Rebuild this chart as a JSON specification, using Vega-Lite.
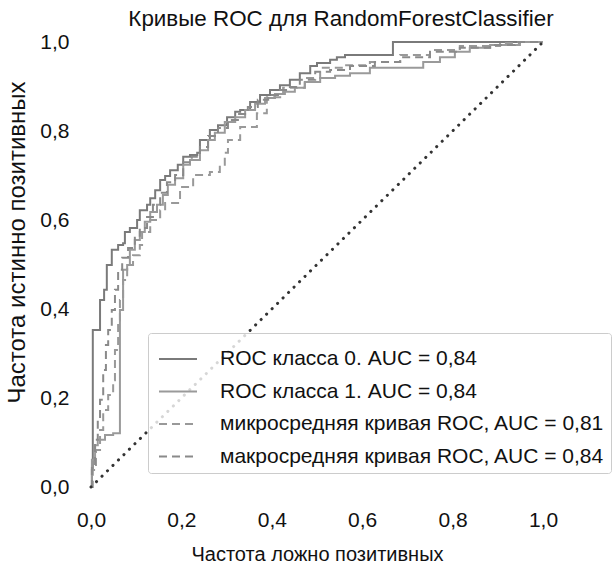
{
  "$schema": "https://vega.github.io/schema/vega-lite/v6.json",
  "autosize": {"type": "none"},
  "padding": {"left": 91, "top": 42, "right": 69, "bottom": 79},
  "width": 452,
  "height": 445,
  "background": "white",
  "config": {
    "view": {"stroke": null},
    "font": "Liberation Sans",
    "axis": {"grid": false, "domain": false, "ticks": false, "labelFontSize": 21, "titleFontSize": 20, "labelColor": "#111", "titleColor": "#111", "titleFontWeight": "normal", "labelFlush": false, "labelOverlap": false}
  },
  "title": {"text": "Кривые ROC для RandomForestClassifier", "fontSize": 22.4, "fontWeight": "normal", "color": "#111", "anchor": "middle", "dx": 24, "offset": 1, "font": "Liberation Sans"},
  "layer": [
    {
      "data": {"values": [
        {"curve": "ROC класса 0. AUC = 0,84", "i": 0, "fpr": 0, "tpr": 0},
        {"curve": "ROC класса 0. AUC = 0,84", "i": 1, "fpr": 0.002, "tpr": 0.038},
        {"curve": "ROC класса 0. AUC = 0,84", "i": 2, "fpr": 0.004, "tpr": 0.196},
        {"curve": "ROC класса 0. AUC = 0,84", "i": 3, "fpr": 0.004, "tpr": 0.353},
        {"curve": "ROC класса 0. AUC = 0,84", "i": 4, "fpr": 0.020, "tpr": 0.360},
        {"curve": "ROC класса 0. AUC = 0,84", "i": 5, "fpr": 0.020, "tpr": 0.420},
        {"curve": "ROC класса 0. AUC = 0,84", "i": 6, "fpr": 0.029, "tpr": 0.443},
        {"curve": "ROC класса 0. AUC = 0,84", "i": 7, "fpr": 0.035, "tpr": 0.458},
        {"curve": "ROC класса 0. AUC = 0,84", "i": 8, "fpr": 0.035, "tpr": 0.499},
        {"curve": "ROC класса 0. AUC = 0,84", "i": 9, "fpr": 0.046, "tpr": 0.506},
        {"curve": "ROC класса 0. AUC = 0,84", "i": 10, "fpr": 0.046, "tpr": 0.533},
        {"curve": "ROC класса 0. AUC = 0,84", "i": 11, "fpr": 0.060, "tpr": 0.544},
        {"curve": "ROC класса 0. AUC = 0,84", "i": 12, "fpr": 0.071, "tpr": 0.548},
        {"curve": "ROC класса 0. AUC = 0,84", "i": 13, "fpr": 0.075, "tpr": 0.573},
        {"curve": "ROC класса 0. AUC = 0,84", "i": 14, "fpr": 0.086, "tpr": 0.582},
        {"curve": "ROC класса 0. AUC = 0,84", "i": 15, "fpr": 0.102, "tpr": 0.600},
        {"curve": "ROC класса 0. AUC = 0,84", "i": 16, "fpr": 0.108, "tpr": 0.622},
        {"curve": "ROC класса 0. AUC = 0,84", "i": 17, "fpr": 0.124, "tpr": 0.634},
        {"curve": "ROC класса 0. AUC = 0,84", "i": 18, "fpr": 0.131, "tpr": 0.649},
        {"curve": "ROC класса 0. AUC = 0,84", "i": 19, "fpr": 0.142, "tpr": 0.667},
        {"curve": "ROC класса 0. AUC = 0,84", "i": 20, "fpr": 0.153, "tpr": 0.690},
        {"curve": "ROC класса 0. AUC = 0,84", "i": 21, "fpr": 0.164, "tpr": 0.699},
        {"curve": "ROC класса 0. AUC = 0,84", "i": 22, "fpr": 0.175, "tpr": 0.712},
        {"curve": "ROC класса 0. AUC = 0,84", "i": 23, "fpr": 0.192, "tpr": 0.724},
        {"curve": "ROC класса 0. AUC = 0,84", "i": 24, "fpr": 0.204, "tpr": 0.742},
        {"curve": "ROC класса 0. AUC = 0,84", "i": 25, "fpr": 0.219, "tpr": 0.746},
        {"curve": "ROC класса 0. AUC = 0,84", "i": 26, "fpr": 0.235, "tpr": 0.751},
        {"curve": "ROC класса 0. AUC = 0,84", "i": 27, "fpr": 0.241, "tpr": 0.780},
        {"curve": "ROC класса 0. AUC = 0,84", "i": 28, "fpr": 0.263, "tpr": 0.802},
        {"curve": "ROC класса 0. AUC = 0,84", "i": 29, "fpr": 0.281, "tpr": 0.813},
        {"curve": "ROC класса 0. AUC = 0,84", "i": 30, "fpr": 0.301, "tpr": 0.831},
        {"curve": "ROC класса 0. AUC = 0,84", "i": 31, "fpr": 0.319, "tpr": 0.843},
        {"curve": "ROC класса 0. AUC = 0,84", "i": 32, "fpr": 0.330, "tpr": 0.847},
        {"curve": "ROC класса 0. AUC = 0,84", "i": 33, "fpr": 0.352, "tpr": 0.865},
        {"curve": "ROC класса 0. AUC = 0,84", "i": 34, "fpr": 0.374, "tpr": 0.881},
        {"curve": "ROC класса 0. AUC = 0,84", "i": 35, "fpr": 0.396, "tpr": 0.892},
        {"curve": "ROC класса 0. AUC = 0,84", "i": 36, "fpr": 0.418, "tpr": 0.903},
        {"curve": "ROC класса 0. AUC = 0,84", "i": 37, "fpr": 0.440, "tpr": 0.915},
        {"curve": "ROC класса 0. AUC = 0,84", "i": 38, "fpr": 0.462, "tpr": 0.930},
        {"curve": "ROC класса 0. AUC = 0,84", "i": 39, "fpr": 0.485, "tpr": 0.946},
        {"curve": "ROC класса 0. AUC = 0,84", "i": 40, "fpr": 0.500, "tpr": 0.953},
        {"curve": "ROC класса 0. AUC = 0,84", "i": 41, "fpr": 0.529, "tpr": 0.960},
        {"curve": "ROC класса 0. AUC = 0,84", "i": 42, "fpr": 0.544, "tpr": 0.966},
        {"curve": "ROC класса 0. AUC = 0,84", "i": 43, "fpr": 0.562, "tpr": 0.971},
        {"curve": "ROC класса 0. AUC = 0,84", "i": 44, "fpr": 0.639, "tpr": 0.971},
        {"curve": "ROC класса 0. AUC = 0,84", "i": 45, "fpr": 0.668, "tpr": 1.0},
        {"curve": "ROC класса 0. AUC = 0,84", "i": 46, "fpr": 1.0, "tpr": 1.0},

        {"curve": "ROC класса 1. AUC = 0,84", "i": 0, "fpr": 0, "tpr": 0},
        {"curve": "ROC класса 1. AUC = 0,84", "i": 1, "fpr": 0.002, "tpr": 0.061},
        {"curve": "ROC класса 1. AUC = 0,84", "i": 2, "fpr": 0.009, "tpr": 0.094},
        {"curve": "ROC класса 1. AUC = 0,84", "i": 3, "fpr": 0.015, "tpr": 0.106},
        {"curve": "ROC класса 1. AUC = 0,84", "i": 4, "fpr": 0.031, "tpr": 0.117},
        {"curve": "ROC класса 1. AUC = 0,84", "i": 5, "fpr": 0.049, "tpr": 0.121},
        {"curve": "ROC класса 1. AUC = 0,84", "i": 6, "fpr": 0.064, "tpr": 0.121},
        {"curve": "ROC класса 1. AUC = 0,84", "i": 7, "fpr": 0.064, "tpr": 0.398},
        {"curve": "ROC класса 1. AUC = 0,84", "i": 8, "fpr": 0.071, "tpr": 0.420},
        {"curve": "ROC класса 1. AUC = 0,84", "i": 9, "fpr": 0.071, "tpr": 0.488},
        {"curve": "ROC класса 1. AUC = 0,84", "i": 10, "fpr": 0.080, "tpr": 0.499},
        {"curve": "ROC класса 1. AUC = 0,84", "i": 11, "fpr": 0.086, "tpr": 0.533},
        {"curve": "ROC класса 1. AUC = 0,84", "i": 12, "fpr": 0.097, "tpr": 0.555},
        {"curve": "ROC класса 1. AUC = 0,84", "i": 13, "fpr": 0.108, "tpr": 0.573},
        {"curve": "ROC класса 1. AUC = 0,84", "i": 14, "fpr": 0.119, "tpr": 0.596},
        {"curve": "ROC класса 1. AUC = 0,84", "i": 15, "fpr": 0.131, "tpr": 0.618},
        {"curve": "ROC класса 1. AUC = 0,84", "i": 16, "fpr": 0.146, "tpr": 0.634},
        {"curve": "ROC класса 1. AUC = 0,84", "i": 17, "fpr": 0.159, "tpr": 0.656},
        {"curve": "ROC класса 1. AUC = 0,84", "i": 18, "fpr": 0.170, "tpr": 0.679},
        {"curve": "ROC класса 1. AUC = 0,84", "i": 19, "fpr": 0.186, "tpr": 0.694},
        {"curve": "ROC класса 1. AUC = 0,84", "i": 20, "fpr": 0.204, "tpr": 0.724},
        {"curve": "ROC класса 1. AUC = 0,84", "i": 21, "fpr": 0.219, "tpr": 0.735},
        {"curve": "ROC класса 1. AUC = 0,84", "i": 22, "fpr": 0.241, "tpr": 0.757},
        {"curve": "ROC класса 1. AUC = 0,84", "i": 23, "fpr": 0.259, "tpr": 0.780},
        {"curve": "ROC класса 1. AUC = 0,84", "i": 24, "fpr": 0.274, "tpr": 0.796},
        {"curve": "ROC класса 1. AUC = 0,84", "i": 25, "fpr": 0.296, "tpr": 0.820},
        {"curve": "ROC класса 1. AUC = 0,84", "i": 26, "fpr": 0.319, "tpr": 0.831},
        {"curve": "ROC класса 1. AUC = 0,84", "i": 27, "fpr": 0.341, "tpr": 0.847},
        {"curve": "ROC класса 1. AUC = 0,84", "i": 28, "fpr": 0.363, "tpr": 0.861},
        {"curve": "ROC класса 1. AUC = 0,84", "i": 29, "fpr": 0.385, "tpr": 0.874},
        {"curve": "ROC класса 1. AUC = 0,84", "i": 30, "fpr": 0.407, "tpr": 0.883},
        {"curve": "ROC класса 1. AUC = 0,84", "i": 31, "fpr": 0.429, "tpr": 0.888},
        {"curve": "ROC класса 1. AUC = 0,84", "i": 32, "fpr": 0.451, "tpr": 0.897},
        {"curve": "ROC класса 1. AUC = 0,84", "i": 33, "fpr": 0.473, "tpr": 0.910},
        {"curve": "ROC класса 1. AUC = 0,84", "i": 34, "fpr": 0.507, "tpr": 0.919},
        {"curve": "ROC класса 1. AUC = 0,84", "i": 35, "fpr": 0.540, "tpr": 0.924},
        {"curve": "ROC класса 1. AUC = 0,84", "i": 36, "fpr": 0.573, "tpr": 0.930},
        {"curve": "ROC класса 1. AUC = 0,84", "i": 37, "fpr": 0.617, "tpr": 0.942},
        {"curve": "ROC класса 1. AUC = 0,84", "i": 38, "fpr": 0.728, "tpr": 0.942},
        {"curve": "ROC класса 1. AUC = 0,84", "i": 39, "fpr": 0.735, "tpr": 0.955},
        {"curve": "ROC класса 1. AUC = 0,84", "i": 40, "fpr": 0.772, "tpr": 0.966},
        {"curve": "ROC класса 1. AUC = 0,84", "i": 41, "fpr": 0.805, "tpr": 0.978},
        {"curve": "ROC класса 1. AUC = 0,84", "i": 42, "fpr": 0.838, "tpr": 0.987},
        {"curve": "ROC класса 1. AUC = 0,84", "i": 43, "fpr": 0.883, "tpr": 0.993},
        {"curve": "ROC класса 1. AUC = 0,84", "i": 44, "fpr": 0.949, "tpr": 1.0},
        {"curve": "ROC класса 1. AUC = 0,84", "i": 45, "fpr": 1.0, "tpr": 1.0},

        {"curve": "микросредняя кривая ROC, AUC = 0,81", "i": 0, "fpr": 0, "tpr": 0},
        {"curve": "микросредняя кривая ROC, AUC = 0,81", "i": 1, "fpr": 0.004, "tpr": 0.038},
        {"curve": "микросредняя кривая ROC, AUC = 0,81", "i": 2, "fpr": 0.011, "tpr": 0.083},
        {"curve": "микросредняя кривая ROC, AUC = 0,81", "i": 3, "fpr": 0.020, "tpr": 0.128},
        {"curve": "микросредняя кривая ROC, AUC = 0,81", "i": 4, "fpr": 0.027, "tpr": 0.173},
        {"curve": "микросредняя кривая ROC, AUC = 0,81", "i": 5, "fpr": 0.038, "tpr": 0.207},
        {"curve": "микросредняя кривая ROC, AUC = 0,81", "i": 6, "fpr": 0.049, "tpr": 0.240},
        {"curve": "микросредняя кривая ROC, AUC = 0,81", "i": 7, "fpr": 0.053, "tpr": 0.308},
        {"curve": "микросредняя кривая ROC, AUC = 0,81", "i": 8, "fpr": 0.060, "tpr": 0.375},
        {"curve": "микросредняя кривая ROC, AUC = 0,81", "i": 9, "fpr": 0.064, "tpr": 0.420},
        {"curve": "микросредняя кривая ROC, AUC = 0,81", "i": 10, "fpr": 0.071, "tpr": 0.465},
        {"curve": "микросредняя кривая ROC, AUC = 0,81", "i": 11, "fpr": 0.080, "tpr": 0.499},
        {"curve": "микросредняя кривая ROC, AUC = 0,81", "i": 12, "fpr": 0.093, "tpr": 0.521},
        {"curve": "микросредняя кривая ROC, AUC = 0,81", "i": 13, "fpr": 0.108, "tpr": 0.544},
        {"curve": "микросредняя кривая ROC, AUC = 0,81", "i": 14, "fpr": 0.113, "tpr": 0.573},
        {"curve": "микросредняя кривая ROC, AUC = 0,81", "i": 15, "fpr": 0.131, "tpr": 0.600},
        {"curve": "микросредняя кривая ROC, AUC = 0,81", "i": 16, "fpr": 0.153, "tpr": 0.622},
        {"curve": "микросредняя кривая ROC, AUC = 0,81", "i": 17, "fpr": 0.164, "tpr": 0.638},
        {"curve": "микросредняя кривая ROC, AUC = 0,81", "i": 18, "fpr": 0.197, "tpr": 0.674},
        {"curve": "микросредняя кривая ROC, AUC = 0,81", "i": 19, "fpr": 0.226, "tpr": 0.701},
        {"curve": "микросредняя кривая ROC, AUC = 0,81", "i": 20, "fpr": 0.263, "tpr": 0.708},
        {"curve": "микросредняя кривая ROC, AUC = 0,81", "i": 21, "fpr": 0.285, "tpr": 0.724},
        {"curve": "микросредняя кривая ROC, AUC = 0,81", "i": 22, "fpr": 0.296, "tpr": 0.751},
        {"curve": "микросредняя кривая ROC, AUC = 0,81", "i": 23, "fpr": 0.303, "tpr": 0.780},
        {"curve": "микросредняя кривая ROC, AUC = 0,81", "i": 24, "fpr": 0.330, "tpr": 0.809},
        {"curve": "микросредняя кривая ROC, AUC = 0,81", "i": 25, "fpr": 0.367, "tpr": 0.840},
        {"curve": "микросредняя кривая ROC, AUC = 0,81", "i": 26, "fpr": 0.389, "tpr": 0.876},
        {"curve": "микросредняя кривая ROC, AUC = 0,81", "i": 27, "fpr": 0.425, "tpr": 0.897},
        {"curve": "микросредняя кривая ROC, AUC = 0,81", "i": 28, "fpr": 0.456, "tpr": 0.897},
        {"curve": "микросредняя кривая ROC, AUC = 0,81", "i": 29, "fpr": 0.473, "tpr": 0.919},
        {"curve": "микросредняя кривая ROC, AUC = 0,81", "i": 30, "fpr": 0.507, "tpr": 0.942},
        {"curve": "микросредняя кривая ROC, AUC = 0,81", "i": 31, "fpr": 0.562, "tpr": 0.948},
        {"curve": "микросредняя кривая ROC, AUC = 0,81", "i": 32, "fpr": 0.617, "tpr": 0.955},
        {"curve": "микросредняя кривая ROC, AUC = 0,81", "i": 33, "fpr": 0.684, "tpr": 0.971},
        {"curve": "микросредняя кривая ROC, AUC = 0,81", "i": 34, "fpr": 0.750, "tpr": 0.982},
        {"curve": "микросредняя кривая ROC, AUC = 0,81", "i": 35, "fpr": 0.816, "tpr": 0.991},
        {"curve": "микросредняя кривая ROC, AUC = 0,81", "i": 36, "fpr": 0.905, "tpr": 0.998},
        {"curve": "микросредняя кривая ROC, AUC = 0,81", "i": 37, "fpr": 0.949, "tpr": 1.0},
        {"curve": "микросредняя кривая ROC, AUC = 0,81", "i": 38, "fpr": 1.0, "tpr": 1.0},

        {"curve": "макросредняя кривая ROC, AUC = 0,84", "i": 0, "fpr": 0, "tpr": 0},
        {"curve": "макросредняя кривая ROC, AUC = 0,84", "i": 1, "fpr": 0.002, "tpr": 0.049},
        {"curve": "макросредняя кривая ROC, AUC = 0,84", "i": 2, "fpr": 0.009, "tpr": 0.106},
        {"curve": "макросредняя кривая ROC, AUC = 0,84", "i": 3, "fpr": 0.015, "tpr": 0.151},
        {"curve": "макросредняя кривая ROC, AUC = 0,84", "i": 4, "fpr": 0.020, "tpr": 0.196},
        {"curve": "макросредняя кривая ROC, AUC = 0,84", "i": 5, "fpr": 0.027, "tpr": 0.263},
        {"curve": "макросредняя кривая ROC, AUC = 0,84", "i": 6, "fpr": 0.033, "tpr": 0.319},
        {"curve": "макросредняя кривая ROC, AUC = 0,84", "i": 7, "fpr": 0.038, "tpr": 0.353},
        {"curve": "макросредняя кривая ROC, AUC = 0,84", "i": 8, "fpr": 0.046, "tpr": 0.398},
        {"curve": "макросредняя кривая ROC, AUC = 0,84", "i": 9, "fpr": 0.053, "tpr": 0.443},
        {"curve": "макросредняя кривая ROC, AUC = 0,84", "i": 10, "fpr": 0.060, "tpr": 0.488},
        {"curve": "макросредняя кривая ROC, AUC = 0,84", "i": 11, "fpr": 0.069, "tpr": 0.515},
        {"curve": "макросредняя кривая ROC, AUC = 0,84", "i": 12, "fpr": 0.082, "tpr": 0.537},
        {"curve": "макросредняя кривая ROC, AUC = 0,84", "i": 13, "fpr": 0.097, "tpr": 0.560},
        {"curve": "макросредняя кривая ROC, AUC = 0,84", "i": 14, "fpr": 0.108, "tpr": 0.582},
        {"curve": "макросредняя кривая ROC, AUC = 0,84", "i": 15, "fpr": 0.124, "tpr": 0.607},
        {"curve": "макросредняя кривая ROC, AUC = 0,84", "i": 16, "fpr": 0.137, "tpr": 0.634},
        {"curve": "макросредняя кривая ROC, AUC = 0,84", "i": 17, "fpr": 0.153, "tpr": 0.661},
        {"curve": "макросредняя кривая ROC, AUC = 0,84", "i": 18, "fpr": 0.168, "tpr": 0.685},
        {"curve": "макросредняя кривая ROC, AUC = 0,84", "i": 19, "fpr": 0.186, "tpr": 0.701},
        {"curve": "макросредняя кривая ROC, AUC = 0,84", "i": 20, "fpr": 0.204, "tpr": 0.730},
        {"curve": "макросредняя кривая ROC, AUC = 0,84", "i": 21, "fpr": 0.223, "tpr": 0.742},
        {"curve": "макросредняя кривая ROC, AUC = 0,84", "i": 22, "fpr": 0.241, "tpr": 0.764},
        {"curve": "макросредняя кривая ROC, AUC = 0,84", "i": 23, "fpr": 0.259, "tpr": 0.789},
        {"curve": "макросредняя кривая ROC, AUC = 0,84", "i": 24, "fpr": 0.281, "tpr": 0.807},
        {"curve": "макросредняя кривая ROC, AUC = 0,84", "i": 25, "fpr": 0.303, "tpr": 0.825},
        {"curve": "макросредняя кривая ROC, AUC = 0,84", "i": 26, "fpr": 0.325, "tpr": 0.838},
        {"curve": "макросредняя кривая ROC, AUC = 0,84", "i": 27, "fpr": 0.347, "tpr": 0.854},
        {"curve": "макросредняя кривая ROC, AUC = 0,84", "i": 28, "fpr": 0.369, "tpr": 0.870},
        {"curve": "макросредняя кривая ROC, AUC = 0,84", "i": 29, "fpr": 0.392, "tpr": 0.881},
        {"curve": "макросредняя кривая ROC, AUC = 0,84", "i": 30, "fpr": 0.418, "tpr": 0.892},
        {"curve": "макросредняя кривая ROC, AUC = 0,84", "i": 31, "fpr": 0.440, "tpr": 0.899},
        {"curve": "макросредняя кривая ROC, AUC = 0,84", "i": 32, "fpr": 0.462, "tpr": 0.915},
        {"curve": "макросредняя кривая ROC, AUC = 0,84", "i": 33, "fpr": 0.496, "tpr": 0.933},
        {"curve": "макросредняя кривая ROC, AUC = 0,84", "i": 34, "fpr": 0.529, "tpr": 0.937},
        {"curve": "макросредняя кривая ROC, AUC = 0,84", "i": 35, "fpr": 0.573, "tpr": 0.946},
        {"curve": "макросредняя кривая ROC, AUC = 0,84", "i": 36, "fpr": 0.628, "tpr": 0.955},
        {"curve": "макросредняя кривая ROC, AUC = 0,84", "i": 37, "fpr": 0.684, "tpr": 0.966},
        {"curve": "макросредняя кривая ROC, AUC = 0,84", "i": 38, "fpr": 0.750, "tpr": 0.978},
        {"curve": "макросредняя кривая ROC, AUC = 0,84", "i": 39, "fpr": 0.816, "tpr": 0.987},
        {"curve": "макросредняя кривая ROC, AUC = 0,84", "i": 40, "fpr": 0.883, "tpr": 0.993},
        {"curve": "макросредняя кривая ROC, AUC = 0,84", "i": 41, "fpr": 0.938, "tpr": 1.0},
        {"curve": "макросредняя кривая ROC, AUC = 0,84", "i": 42, "fpr": 1.0, "tpr": 1.0}
      ]},
      "mark": {"type": "line", "strokeWidth": 2, "interpolate": "step-after", "clip": false},
      "encoding": {
        "x": {"field": "fpr", "type": "quantitative", "scale": {"domain": [0, 1], "nice": false, "zero": false},
              "axis": {"title": "Частота ложно позитивных", "values": [0, 0.2, 0.4, 0.6, 0.8, 1.0], "format": ".1f", "labelExpr": "replace(datum.label, '.', ',')", "labelPadding": 22, "titlePadding": 14}},
        "y": {"field": "tpr", "type": "quantitative", "scale": {"domain": [0, 1], "nice": false, "zero": false},
              "axis": {"title": "Частота истинно позитивных", "titleFontSize": 24, "titleY": 200, "values": [0, 0.2, 0.4, 0.6, 0.8, 1.0], "format": ".1f", "labelExpr": "replace(datum.label, '.', ',')", "labelPadding": 22, "titlePadding": 10}},
        "order": {"field": "i", "type": "quantitative"},
        "color": {"field": "curve", "type": "nominal",
                  "scale": {"domain": ["ROC класса 0. AUC = 0,84", "ROC класса 1. AUC = 0,84", "микросредняя кривая ROC, AUC = 0,81", "макросредняя кривая ROC, AUC = 0,84"],
                            "range": ["#7a7a7a", "#9a9a9a", "#999999", "#8a8a8a"]},
                  "legend": {"title": null, "orient": "none", "legendX": 57, "legendY": 291, "symbolType": "stroke", "symbolSize": 1444, "symbolStrokeWidth": 2, "symbolOffset": 4, "labelFontSize": 21, "labelColor": "#111", "labelFont": "Liberation Sans", "labelLimit": 500, "rowPadding": 2.5, "padding": 6, "fillColor": "rgba(255,255,255,0.8)", "strokeColor": "#cccccc", "cornerRadius": 3, "labelOffset": 22}},
        "strokeDash": {"field": "curve", "type": "nominal",
                  "scale": {"domain": ["ROC класса 0. AUC = 0,84", "ROC класса 1. AUC = 0,84", "микросредняя кривая ROC, AUC = 0,81", "макросредняя кривая ROC, AUC = 0,84"],
                            "range": [[1, 0], [1, 0], [8, 5], [8, 5]]},
                  "legend": {"title": null, "orient": "none", "legendX": 57, "legendY": 291, "symbolType": "stroke", "symbolSize": 1444, "symbolStrokeWidth": 2, "symbolOffset": 4, "labelFontSize": 21, "labelColor": "#111", "labelFont": "Liberation Sans", "labelLimit": 500, "rowPadding": 2.5, "padding": 6, "fillColor": "rgba(255,255,255,0.8)", "strokeColor": "#cccccc", "cornerRadius": 3, "labelOffset": 22}}
      }
    },
    {
      "data": {"values": [{"fpr": 0, "tpr": 0}, {"fpr": 1, "tpr": 1}]},
      "mark": {"type": "line", "color": "#333333", "strokeWidth": 3, "strokeDash": [0.1, 7.6], "strokeCap": "round", "clip": false},
      "encoding": {
        "x": {"field": "fpr", "type": "quantitative"},
        "y": {"field": "tpr", "type": "quantitative"}
      }
    }
  ]
}
